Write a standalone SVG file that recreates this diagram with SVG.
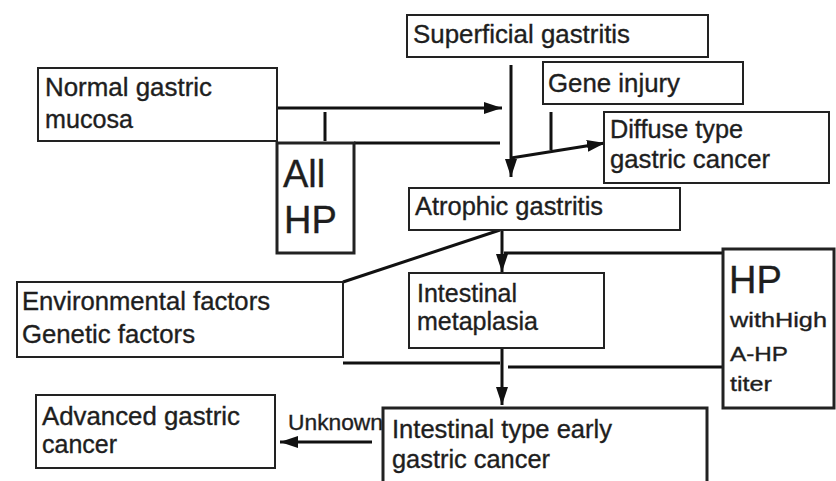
<svg xmlns="http://www.w3.org/2000/svg" width="836" height="481" viewBox="0 0 836 481">
<style>
.box{fill:#fff;stroke:#222;stroke-width:2}
.thick{stroke-width:3}
.t{font-family:"Liberation Sans",Arial,sans-serif;font-size:25px;fill:#1e1e1e;stroke:#1e1e1e;stroke-width:0.35}
.big{font-size:38px}
.sm{font-size:21px}
.ln{stroke:#111;stroke-width:3;fill:none}
</style>
<defs>
<marker id="ah" viewBox="0 0 18 12" refX="18" refY="6" markerWidth="18" markerHeight="12" markerUnits="userSpaceOnUse" orient="auto">
<path d="M0,0 L18,6 L0,12 z" fill="#111"/>
</marker>
</defs>
<rect width="836" height="481" fill="#fff"/>
<g id="connectors">
<line class="ln" x1="277" y1="108" x2="502" y2="108" marker-end="url(#ah)"/>
<line class="ln" x1="325" y1="112" x2="325" y2="141"/>
<line class="ln" x1="354" y1="143" x2="500" y2="143"/>
<line class="ln" x1="511" y1="65" x2="511" y2="177" marker-end="url(#ah)"/>
<line class="ln" x1="551" y1="112" x2="551" y2="150"/>
<line class="ln" x1="511" y1="158" x2="605" y2="143" marker-end="url(#ah)"/>
<line class="ln" x1="502" y1="230" x2="502" y2="272" marker-end="url(#ah)"/>
<line class="ln" x1="343" y1="282" x2="500" y2="230"/>
<line class="ln" x1="504" y1="253" x2="723" y2="253"/>
<line class="ln" x1="343" y1="363" x2="500" y2="363"/>
<line class="ln" x1="508" y1="367" x2="723" y2="367"/>
<line class="ln" x1="502" y1="348" x2="502" y2="405" marker-end="url(#ah)"/>
<line class="ln" x1="372" y1="442" x2="280" y2="442" marker-end="url(#ah)"/>
</g>
<g id="normal">
<rect class="box" x="38" y="68" width="239" height="73"/>
<text class="t" x="45" y="96" textLength="167" lengthAdjust="spacingAndGlyphs">Normal gastric</text>
<text class="t" x="45" y="128" textLength="88" lengthAdjust="spacingAndGlyphs">mucosa</text>
</g>
<g id="superficial">
<rect class="box" x="407" y="15" width="301" height="42"/>
<text class="t" x="413" y="43" textLength="217" lengthAdjust="spacingAndGlyphs">Superficial gastritis</text>
</g>
<g id="gene">
<rect class="box" x="543" y="62" width="200" height="42"/>
<text class="t" x="548" y="92" textLength="132" lengthAdjust="spacingAndGlyphs">Gene injury</text>
</g>
<g id="diffuse">
<rect class="box" x="604" y="112" width="225" height="71"/>
<text class="t" x="610" y="138" textLength="133" lengthAdjust="spacingAndGlyphs">Diffuse type</text>
<text class="t" x="610" y="168" textLength="160" lengthAdjust="spacingAndGlyphs">gastric cancer</text>
</g>
<g id="allhp">
<rect class="box thick" x="277" y="143" width="77" height="110"/>
<text class="t big" x="283" y="187">All</text>
<text class="t big" x="284" y="233">HP</text>
</g>
<g id="atrophic">
<rect class="box" x="409" y="188" width="271" height="42"/>
<text class="t" x="415" y="215" textLength="188" lengthAdjust="spacingAndGlyphs">Atrophic gastritis</text>
</g>
<g id="environmental">
<rect class="box" x="17" y="282" width="326" height="75"/>
<text class="t" x="22" y="310" textLength="248" lengthAdjust="spacingAndGlyphs">Environmental factors</text>
<text class="t" x="22" y="343" textLength="173" lengthAdjust="spacingAndGlyphs">Genetic factors</text>
</g>
<g id="metaplasia">
<rect class="box" x="409" y="273" width="195" height="75"/>
<text class="t" x="417" y="302">Intestinal</text>
<text class="t" x="417" y="330" textLength="121" lengthAdjust="spacingAndGlyphs">metaplasia</text>
</g>
<g id="hp">
<rect class="box thick" x="723" y="249" width="111" height="159"/>
<text class="t big" x="729" y="293">HP</text>
<text class="t sm" x="730" y="327" textLength="97" lengthAdjust="spacingAndGlyphs">withHigh</text>
<text class="t sm" x="730" y="361" textLength="58" lengthAdjust="spacingAndGlyphs">A-HP</text>
<text class="t sm" x="730" y="391" textLength="42" lengthAdjust="spacingAndGlyphs">titer</text>
</g>
<g id="advanced">
<rect class="box" x="36" y="395" width="239" height="73"/>
<text class="t" x="42" y="425" textLength="198" lengthAdjust="spacingAndGlyphs">Advanced gastric</text>
<text class="t" x="42" y="453">cancer</text>
</g>
<g id="unknown-label">
<text class="t" x="288" y="430" style="font-size:22px" textLength="95" lengthAdjust="spacingAndGlyphs">Unknown</text>
</g>
<g id="intestinal-type">
<rect class="box thick" x="383" y="408" width="324" height="80"/>
<text class="t" x="392" y="438" textLength="220" lengthAdjust="spacingAndGlyphs">Intestinal type early</text>
<text class="t" x="392" y="468" textLength="158" lengthAdjust="spacingAndGlyphs">gastric cancer</text>
</g>
</svg>
